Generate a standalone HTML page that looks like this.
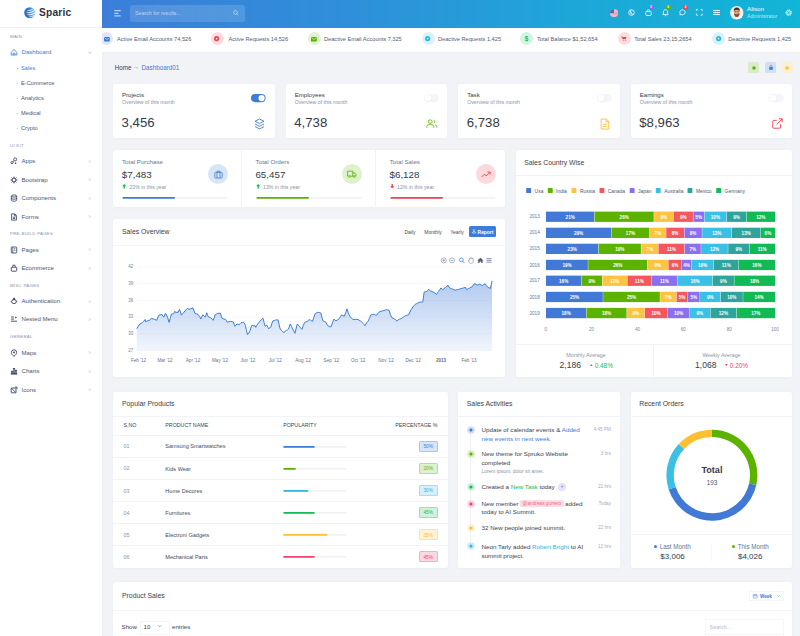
<!DOCTYPE html>
<html lang="en"><head><meta charset="utf-8"><title>Sparic Dashboard</title>
<style>
*{box-sizing:border-box;margin:0;padding:0}
html,body{width:800px;height:636px;overflow:hidden;background:#f2f3f7;font-family:"Liberation Sans",Arial,sans-serif;color:#3b4863}
.abs,.abs>*{position:absolute}
body>div{position:absolute}
.t{position:absolute;white-space:nowrap;line-height:1}
.card{position:absolute;background:#fff;border-radius:2.5px;box-shadow:0 .5px 2px rgba(120,130,170,.05)}
.hl{position:absolute;height:1px;background:#f2f3f8;margin-top:-.5px}
.vl{position:absolute;width:1px;background:#f1f2f7;margin-left:-.5px}
svg{position:absolute;overflow:visible}
.mut{color:#8c92a6}
.sec{color:#8a92ad;font-size:4.4px;letter-spacing:.25px}
.mi{font-size:6.1px;color:#4a5473}
.sub{font-size:5.7px;color:#4a5573}
.pri{color:#3d7cd8}
.ct{font-size:6.85px;color:#383e4c}
</style></head><body>

<div id="sidebar" style="left:0;top:0;width:102px;height:636px;background:#fff;box-shadow:.5px 0 0 #e6e9f1">
<div class="hl" style="left:0;top:27.2px;width:100%"></div>
<svg style="left:24.1px;top:6.6px" width="11.6" height="11.6" viewBox="0 0 24 24">
<defs><linearGradient id="lg" x1="0" y1="0" x2="1" y2="0"><stop offset="0" stop-color="#1b63cc"/><stop offset=".45" stop-color="#2f7fe0"/><stop offset="1" stop-color="#8ccaf7"/></linearGradient><clipPath id="lc"><circle cx="12" cy="12" r="11.5"/></clipPath></defs>
<g clip-path="url(#lc)"><rect width="24" height="24" fill="url(#lg)"/>
<path transform="rotate(-14 12 12)" d="M28 2.5C18 6.5 12.5 7 7.5 5.2L8 6.6C13 8.6 19 8 28 4Z M28 7C18 11.4 11 11.6 5.5 9.4L5.8 11C11.5 13.4 18.5 12.8 28 8.6Z M28 11.8C18 16.2 11 16 5.6 13.8L6.2 15.4C11.8 17.8 18.6 17.6 28 13.4Z M28 16.6C19 20.4 13 20.4 8.4 18.6L9.6 20C14 21.8 20 21.6 28 18.2Z" fill="#fff"/></g>
</svg>
<div class="t" style="left:39px;top:8px;font-size:10.2px;font-weight:700;color:#2e323e;letter-spacing:.2px">Sparic</div>
<div class="t sec" style="left:10px;top:35px">MAIN</div>
<svg style="left:10.2px;top:48.2px" width="8" height="8" viewBox="0 0 8 8"><path d="M1.2 4.4 L4 1.3 L6.8 4.4 V7 H1.2 Z M3.2 7 V5.2 H4.8 V7" fill="none" stroke="#3d7cd8" stroke-width=".8" stroke-linejoin="round"/></svg>
<div class="t mi pri" style="left:21.5px;top:49px">Dashboard</div>
<svg style="left:88px;top:50.7px" width="4" height="3" viewBox="0 0 4 3"><path d="M.6 1L2 2.3L3.4 1" fill="none" stroke="#6c98dd" stroke-width=".6"/></svg>
<div style="position:absolute;left:16.6px;top:67.85px;width:.9px;height:.9px;border-radius:50%;background:#3d7cd8"></div>
<div class="t sub" style="left:21px;top:66px;color:#3d7cd8">Sales</div>
<div style="position:absolute;left:16.6px;top:82.95px;width:.9px;height:.9px;border-radius:50%;background:#9aa3bd"></div>
<div class="t sub" style="left:21px;top:81px;color:#4a5573">E-Commerce</div>
<div style="position:absolute;left:16.6px;top:97.95px;width:.9px;height:.9px;border-radius:50%;background:#9aa3bd"></div>
<div class="t sub" style="left:21px;top:96px;color:#4a5573">Analytics</div>
<div style="position:absolute;left:16.6px;top:113.05px;width:.9px;height:.9px;border-radius:50%;background:#9aa3bd"></div>
<div class="t sub" style="left:21px;top:111px;color:#4a5573">Medical</div>
<div style="position:absolute;left:16.6px;top:127.95px;width:.9px;height:.9px;border-radius:50%;background:#9aa3bd"></div>
<div class="t sub" style="left:21px;top:126px;color:#4a5573">Crypto</div>
<div class="t sec" style="left:10px;top:144px">UI KIT</div>
<svg style="left:10.2px;top:157.4px" width="8" height="8" viewBox="0 0 8 8"><circle cx="5.2" cy="2.4" r="1.5" fill="none" stroke="#2f3a5c" stroke-width=".8"/><circle cx="2" cy="5.6" r="1.1" fill="none" stroke="#2f3a5c" stroke-width=".8"/><circle cx="5.6" cy="6.3" r=".8" fill="#2f3a5c"/><path d="M4 3.6 L2.8 4.7" stroke="#2f3a5c" stroke-width=".8"/></svg>
<div class="t mi" style="left:21.5px;top:158px">Apps</div>
<svg style="left:88.3px;top:159.9px" width="3" height="3" viewBox="0 0 3 3"><path d="M1 .4L2.1 1.5L1 2.6" fill="none" stroke="#9aa3bd" stroke-width=".6"/></svg>
<svg style="left:10.2px;top:175.9px" width="8" height="8" viewBox="0 0 8 8"><circle cx="4" cy="4" r="1.9" fill="none" stroke="#2f3a5c" stroke-width=".9"/><path d="M4 .6V2 M4 6V7.4 M.6 4H2 M6 4H7.4 M1.6 1.6l1 1 M5.4 5.4l1 1 M6.4 1.6l-1 1 M2.6 5.4l-1 1" stroke="#2f3a5c" stroke-width=".9"/></svg>
<div class="t mi" style="left:21.5px;top:177px">Bootstrap</div>
<svg style="left:88.3px;top:178.4px" width="3" height="3" viewBox="0 0 3 3"><path d="M1 .4L2.1 1.5L1 2.6" fill="none" stroke="#9aa3bd" stroke-width=".6"/></svg>
<svg style="left:10.2px;top:194.4px" width="8" height="8" viewBox="0 0 8 8"><ellipse cx="4" cy="2" rx="2.7" ry="1.1" fill="none" stroke="#2f3a5c" stroke-width=".8"/><path d="M1.3 2V6c0 .7 1.2 1.2 2.7 1.2S6.7 6.7 6.7 6V2 M1.3 4c0 .7 1.2 1.2 2.7 1.2S6.7 4.7 6.7 4" fill="none" stroke="#2f3a5c" stroke-width=".8"/></svg>
<div class="t mi" style="left:21.5px;top:195px">Components</div>
<svg style="left:88.3px;top:196.9px" width="3" height="3" viewBox="0 0 3 3"><path d="M1 .4L2.1 1.5L1 2.6" fill="none" stroke="#9aa3bd" stroke-width=".6"/></svg>
<svg style="left:10.2px;top:212.8px" width="8" height="8" viewBox="0 0 8 8"><path d="M1.6 .9H4.8L6.4 2.6V7.1H1.6Z M4.6 1V2.8H6.3 M2.8 4.2H5.2 M2.8 5.5H5.2" fill="none" stroke="#2f3a5c" stroke-width=".8" stroke-linejoin="round"/></svg>
<div class="t mi" style="left:21.5px;top:214px">Forms</div>
<svg style="left:88.3px;top:215.3px" width="3" height="3" viewBox="0 0 3 3"><path d="M1 .4L2.1 1.5L1 2.6" fill="none" stroke="#9aa3bd" stroke-width=".6"/></svg>
<div class="t sec" style="left:10px;top:232px">PRE-BUILD PAGES</div>
<svg style="left:10.2px;top:245.9px" width="8" height="8" viewBox="0 0 8 8"><rect x="1.3" y="1" width="5.4" height="6" rx=".6" fill="none" stroke="#2f3a5c" stroke-width=".8"/><path d="M2.8 1V7 M4 2.8H5.4 M4 4.2H5.4" stroke="#2f3a5c" stroke-width=".7"/></svg>
<div class="t mi" style="left:21.5px;top:247px">Pages</div>
<svg style="left:88.3px;top:248.4px" width="3" height="3" viewBox="0 0 3 3"><path d="M1 .4L2.1 1.5L1 2.6" fill="none" stroke="#9aa3bd" stroke-width=".6"/></svg>
<svg style="left:10.2px;top:264.3px" width="8" height="8" viewBox="0 0 8 8"><rect x="1.3" y="3.2" width="5.4" height="4" rx=".7" fill="none" stroke="#2f3a5c" stroke-width=".85"/><path d="M2.6 3.2V2.4a1.4 1.4 0 0 1 2.8 0V3.2" fill="none" stroke="#2f3a5c" stroke-width=".85"/></svg>
<div class="t mi" style="left:21.5px;top:265px">Ecommerce</div>
<svg style="left:88.3px;top:266.8px" width="3" height="3" viewBox="0 0 3 3"><path d="M1 .4L2.1 1.5L1 2.6" fill="none" stroke="#9aa3bd" stroke-width=".6"/></svg>
<div class="t sec" style="left:10px;top:284px">MISC PAGES</div>
<svg style="left:10.2px;top:297.0px" width="8" height="8" viewBox="0 0 8 8"><ellipse cx="4" cy="4.6" rx="2.3" ry="2" fill="none" stroke="#2f3a5c" stroke-width=".85"/><path d="M2.8 2.4H5.2 M3.4 1.2H4.6V2.4H3.4Z M.7 4.6H1.7 M6.3 4.6H7.3" stroke="#2f3a5c" stroke-width=".8" fill="none"/></svg>
<div class="t mi" style="left:21.5px;top:298px">Authentication</div>
<svg style="left:88.3px;top:299.5px" width="3" height="3" viewBox="0 0 3 3"><path d="M1 .4L2.1 1.5L1 2.6" fill="none" stroke="#9aa3bd" stroke-width=".6"/></svg>
<svg style="left:10.2px;top:315.3px" width="8" height="8" viewBox="0 0 8 8"><path d="M1 2H4 M1 4.1H4 M1 6.2H7" stroke="#2f3a5c" stroke-width=".85"/><path d="M5.2 1.4L6.9 2.5L5.2 3.6Z" fill="#2f3a5c"/></svg>
<div class="t mi" style="left:21.5px;top:316px">Nested Menu</div>
<svg style="left:88.3px;top:317.8px" width="3" height="3" viewBox="0 0 3 3"><path d="M1 .4L2.1 1.5L1 2.6" fill="none" stroke="#9aa3bd" stroke-width=".6"/></svg>
<div class="t sec" style="left:10px;top:335px">GENERAL</div>
<svg style="left:10.2px;top:348.7px" width="8" height="8" viewBox="0 0 8 8"><path d="M4 7.3C2.4 6.1 1.4 4.9 1.4 3.4A2.6 2.6 0 0 1 6.6 3.4C6.6 4.9 5.6 6.1 4 7.3Z" fill="none" stroke="#2f3a5c" stroke-width=".85"/><circle cx="4" cy="3.4" r=".9" fill="#2f3a5c"/></svg>
<div class="t mi" style="left:21.5px;top:350px">Maps</div>
<svg style="left:88.3px;top:351.2px" width="3" height="3" viewBox="0 0 3 3"><path d="M1 .4L2.1 1.5L1 2.6" fill="none" stroke="#9aa3bd" stroke-width=".6"/></svg>
<svg style="left:10.2px;top:367.2px" width="8" height="8" viewBox="0 0 8 8"><path d="M.8 7H7.2" stroke="#2f3a5c" stroke-width=".8"/><rect x="1.3" y="4.2" width="1.4" height="2.6" fill="none" stroke="#2f3a5c" stroke-width=".7"/><rect x="3.3" y="1.6" width="1.4" height="5.2" fill="none" stroke="#2f3a5c" stroke-width=".7"/><rect x="5.3" y="3.2" width="1.4" height="3.6" fill="none" stroke="#2f3a5c" stroke-width=".7"/></svg>
<div class="t mi" style="left:21.5px;top:368px">Charts</div>
<svg style="left:88.3px;top:369.7px" width="3" height="3" viewBox="0 0 3 3"><path d="M1 .4L2.1 1.5L1 2.6" fill="none" stroke="#9aa3bd" stroke-width=".6"/></svg>
<svg style="left:10.2px;top:385.7px" width="8" height="8" viewBox="0 0 8 8"><rect x="1.2" y="2" width="4.8" height="4.8" rx=".4" fill="none" stroke="#2f3a5c" stroke-width=".85"/><path d="M1.4 2.2L5.8 6.6 M5 1H7V3" stroke="#2f3a5c" stroke-width=".8" fill="none"/></svg>
<div class="t mi" style="left:21.5px;top:387px">Icons</div>
<svg style="left:88.3px;top:388.2px" width="3" height="3" viewBox="0 0 3 3"><path d="M1 .4L2.1 1.5L1 2.6" fill="none" stroke="#9aa3bd" stroke-width=".6"/></svg>
</div>
<div id="header" style="left:102px;top:0;width:698px;height:27.5px;background:linear-gradient(90deg,#3b7ed9 0%,#2f8fda 35%,#1ca8d8 70%,#12b5d6 100%)">
 <svg style="left:12px;top:9.6px" width="8" height="7" viewBox="0 0 8 7"><path d="M.3 .7H6.7 M.3 3.3H4.6 M.3 5.9H6.7" stroke="#fff" stroke-width=".8"/></svg>
<div style="position:absolute;left:28px;top:5px;width:115px;height:16.5px;border-radius:2.5px;background:rgba(255,255,255,.14)"></div>
<div class="t" style="left:33px;top:11px;font-size:5.3px;color:rgba(255,255,255,.62)">Search for results...</div>
<svg style="left:131.2px;top:10.2px" width="5.8" height="5.8" viewBox="0 0 5 5"><circle cx="2.1" cy="2.1" r="1.6" fill="none" stroke="rgba(255,255,255,.7)" stroke-width=".55"/><path d="M3.3 3.3L4.6 4.6" stroke="rgba(255,255,255,.7)" stroke-width=".55"/></svg>
<svg style="left:508.29999999999995px;top:8.8px" width="8" height="8" viewBox="0 0 8 8"><defs><clipPath id="fc"><circle cx="4" cy="4" r="4"/></clipPath></defs>
<g clip-path="url(#fc)"><rect width="8" height="8" fill="#f4f4f8"/><path d="M0 .6H8M0 1.9H8M0 3.2H8M0 4.5H8M0 5.8H8M0 7.1H8" stroke="#ef6a7a" stroke-width=".7"/><rect width="4" height="4" fill="#5566b8"/></g></svg>
<svg style="left:525.5px;top:9.3px" width="7" height="7" viewBox="0 0 7 7"><circle cx="3.5" cy="3.5" r="2.8" fill="none" stroke="rgba(255,255,255,.95)" stroke-width=".85"/><path d="M3.5 .7A3 3 0 0 0 5.8 5.2A2.4 2.4 0 0 1 3.5 .7Z" fill="rgba(255,255,255,.95)"/></svg>
<svg style="left:542.6px;top:9.3px" width="7" height="7" viewBox="0 0 7 7"><rect x=".8" y="2.6" width="5.4" height="3.9" rx=".7" fill="none" stroke="rgba(255,255,255,.95)" stroke-width=".85"/><path d="M2.2 2.6V2a1.3 1.3 0 0 1 2.6 0V2.6" fill="none" stroke="rgba(255,255,255,.95)" stroke-width=".85"/></svg>
<svg style="left:560px;top:9.1px" width="7" height="7.4" viewBox="0 0 7 7.4"><path d="M3.5 .7C2.1 .7 1.4 1.8 1.4 3V4.6L.8 5.6H6.2L5.6 4.6V3C5.6 1.8 4.9 .7 3.5 .7Z M2.8 6.4A.8 .8 0 0 0 4.2 6.4" fill="none" stroke="rgba(255,255,255,.95)" stroke-width=".85" stroke-linejoin="round"/></svg>
<svg style="left:577px;top:9.3px" width="7" height="7" viewBox="0 0 7 7"><path d="M3.5 .8A2.7 2.5 0 1 1 2.2 5.5L.9 6L1.3 4.7A2.7 2.5 0 0 1 3.5 .8Z" fill="none" stroke="rgba(255,255,255,.95)" stroke-width=".85" stroke-linejoin="round"/></svg>
<svg style="left:594.2px;top:9px" width="6.6" height="6.6" viewBox="0 0 6.4 6.4"><path d="M.4 2V.4H2 M4.4 .4H6V2 M6 4.4V6H4.4 M2 6H.4V4.4" fill="none" stroke="rgba(255,255,255,.95)" stroke-width=".75"/></svg>
<svg style="left:611px;top:9px" width="7" height="7" viewBox="0 0 7 7"><path d="M0 1.5H7M0 3.5H7M0 5.5H7" stroke="#fff" stroke-opacity=".92" stroke-width=".9"/><path d="M4.5 .6V2.4M2.5 2.6V4.4M4.5 4.6V6.4" stroke="#fff" stroke-opacity=".8" stroke-width=".6"/></svg>
<div style="position:absolute;left:546.8px;top:5.0px;width:4.8px;height:4.8px;border-radius:50%;background:#7b6cf0"></div>
<div class="t" style="left:548.3px;top:6px;font-size:3px;color:#fff;font-weight:700">5</div>
<div style="position:absolute;left:564.1px;top:4.8px;width:4.8px;height:4.8px;border-radius:50%;background:#5bb300"></div>
<div class="t" style="left:565.6px;top:6px;font-size:3px;color:#fff;font-weight:700">6</div>
<div style="position:absolute;left:581.2px;top:5.0px;width:4.8px;height:4.8px;border-radius:50%;background:#f0434f"></div>
<div class="t" style="left:582.7px;top:6px;font-size:3px;color:#fff;font-weight:700">4</div>
<svg style="left:628px;top:6px" width="13.6" height="13.6" viewBox="0 0 27 27"><defs><clipPath id="av"><circle cx="13.5" cy="13.5" r="13.5"/></clipPath></defs>
<g clip-path="url(#av)"><rect width="27" height="27" fill="#f1eeec"/><path d="M0 27C1 21.5 6 20 13.5 20S26 21.5 27 27Z" fill="#fbfaf9"/><rect x="10" y="15" width="7" height="7" fill="#c98a6c"/><ellipse cx="13.5" cy="12" rx="5.6" ry="7" fill="#dba184"/><path d="M7.9 13.5C8.2 19.5 10.6 21.6 13.5 21.6S18.8 19.5 19.1 13.5C17.8 16.6 16 16.2 13.5 16.2S9.2 16.6 7.9 13.5Z" fill="#8a4a30"/><path d="M7.7 11.5C6.8 5.5 9.6 3.2 13.5 3.2S20.2 5.5 19.3 11.5C18.6 8.4 17.4 7.4 13.5 7.4S8.4 8.4 7.7 11.5Z" fill="#3e2a22"/><path d="M9.6 11H12.4M14.6 11H17.4" stroke="#2d2320" stroke-width=".9"/></g></svg>
<div class="t" style="left:645px;top:6px;font-size:6.2px;color:#fff">Alison</div>
<div class="t" style="left:645px;top:14px;font-size:5.15px;color:rgba(255,255,255,.72)">Administrator</div>
<svg style="left:682.9px;top:9.2px" width="7.4" height="7.4" viewBox="0 0 8 8"><circle cx="4" cy="4" r="1.2" fill="none" stroke="rgba(255,255,255,.95)" stroke-width=".7"/><circle cx="4" cy="4" r="2.45" fill="none" stroke="rgba(255,255,255,.95)" stroke-width=".75"/><circle cx="4" cy="4" r="3.15" fill="none" stroke="rgba(255,255,255,.95)" stroke-width="1" stroke-dasharray="1.1 1.374"/></svg>
</div>
<div id="ticker" style="left:102px;top:27.5px;width:698px;height:24px;background:#fff;box-shadow:0 .5px 0 #e9ecf3;overflow:hidden">
<div style="position:absolute;left:-2.0px;top:4.75px;width:13px;height:13px;border-radius:50%;background:rgba(61,124,216,0.18)"></div>
<svg style="left:1.6px;top:9.1px" width="5.8" height="4.4" viewBox="0 0 5.2 4.2" preserveAspectRatio="none"><rect width="5.2" height="4.2" rx=".6" fill="#3d7cd8"/><path d="M.5 .9L2.6 2.4L4.7 .9" fill="none" stroke="#fff" stroke-width=".5"/></svg>
<div class="t" style="left:15.0px;top:9px;font-size:5.65px;color:#535c73">Active Email Accounts 74,526</div>
<div style="position:absolute;left:108.5px;top:4.75px;width:13px;height:13px;border-radius:50%;background:rgba(240,67,79,0.18)"></div>
<svg style="left:112.4px;top:8.6px" width="5.2" height="5.2" viewBox="0 0 5.2 5.2"><circle cx="2.6" cy="2.6" r="2.6" fill="#f0434f"/><circle cx="2.6" cy="2.6" r=".85" fill="#fff" fill-opacity=".9"/></svg>
<div class="t" style="left:126.5px;top:9px;font-size:5.65px;color:#535c73">Active Requests 14,526</div>
<div style="position:absolute;left:205.5px;top:4.75px;width:13px;height:13px;border-radius:50%;background:rgba(91,179,0,0.18)"></div>
<svg style="left:209.1px;top:9.1px" width="5.8" height="4.4" viewBox="0 0 5.2 4.2" preserveAspectRatio="none"><rect width="5.2" height="4.2" rx=".6" fill="#5bb300"/><path d="M.5 .9L2.6 2.4L4.7 .9" fill="none" stroke="#fff" stroke-width=".5"/></svg>
<div class="t" style="left:222.0px;top:9px;font-size:5.65px;color:#535c73">Deactive Email Accounts 7,325</div>
<div style="position:absolute;left:319.5px;top:4.75px;width:13px;height:13px;border-radius:50%;background:rgba(44,181,228,0.18)"></div>
<svg style="left:323.4px;top:8.6px" width="5.2" height="5.2" viewBox="0 0 5.2 5.2"><circle cx="2.6" cy="2.6" r="2.6" fill="#2cb5e4"/><circle cx="2.6" cy="2.6" r=".85" fill="#fff" fill-opacity=".9"/></svg>
<div class="t" style="left:336.0px;top:9px;font-size:5.65px;color:#535c73">Deactive Requests 1,425</div>
<div style="position:absolute;left:418.0px;top:4.75px;width:13px;height:13px;border-radius:50%;background:rgba(19,187,86,0.18)"></div>
<div class="t" style="left:422.8px;top:8px;font-size:6.4px;font-weight:700;color:#13bb56">$</div>
<div class="t" style="left:435.0px;top:9px;font-size:5.65px;color:#535c73">Total Balance $1,52,654</div>
<div style="position:absolute;left:515.5px;top:4.75px;width:13px;height:13px;border-radius:50%;background:rgba(240,67,79,0.18)"></div>
<svg style="left:519.2px;top:8.9px" width="5.6" height="5" viewBox="0 0 5.6 5"><path d="M0 .4H1L1.4 1H5.4L4.8 3.1H1.8Z" fill="#f0434f"/><circle cx="2.2" cy="4.1" r=".6" fill="#f0434f"/><circle cx="4.3" cy="4.1" r=".6" fill="#f0434f"/></svg>
<div class="t" style="left:532.2px;top:9px;font-size:5.65px;color:#535c73">Total Sales 23,15,2654</div>
<div style="position:absolute;left:610.3px;top:4.75px;width:13px;height:13px;border-radius:50%;background:rgba(44,181,228,0.18)"></div>
<svg style="left:614.2px;top:8.6px" width="5.2" height="5.2" viewBox="0 0 5.2 5.2"><circle cx="2.6" cy="2.6" r="2.6" fill="#2cb5e4"/><circle cx="2.6" cy="2.6" r=".85" fill="#fff" fill-opacity=".9"/></svg>
<div class="t" style="left:626.2px;top:9px;font-size:5.65px;color:#535c73">Deactive Requests 1,425</div>
</div>
<div class="t" style="left:114.7px;top:65px;font-size:6.3px;color:#3b4252">Home</div>
<div class="t" style="left:133px;top:64px;font-size:6px;color:#757d93">&#8594;</div>
<div class="t pri" style="left:141.5px;top:65px;font-size:6.3px">Dashboard01</div>
<div style="left:748px;top:62.3px;width:11.3px;height:10.8px;border-radius:1.5px;background:#d8ecc9"></div>
<svg style="left:751.7px;top:65.6px" width="4" height="4" viewBox="0 0 4 4"><circle cx="2" cy="2" r="1.75" fill="#5bb300"/></svg>
<div style="left:765px;top:62.3px;width:11.3px;height:10.8px;border-radius:1.5px;background:#d2def2"></div>
<svg style="left:768.6px;top:65.2px" width="4" height="5" viewBox="0 0 4 5"><rect x=".2" y="2" width="3.6" height="2.8" rx=".4" fill="#3d7cd8"/><path d="M1 2V1.4a1 1 0 0 1 2 0V2" fill="none" stroke="#3d7cd8" stroke-width=".6"/></svg>
<div style="left:781.6px;top:62.3px;width:11.3px;height:10.8px;border-radius:1.5px;background:#fcf0d4"></div>
<svg style="left:785.3000000000001px;top:65.6px" width="4" height="4" viewBox="0 0 4 4"><circle cx="2" cy="2" r="1.75" fill="#fdc033"/></svg>
<div class="card" style="left:113px;top:84px;width:161.5px;height:53.5px">
<div class="t" style="left:9px;top:8px;font-size:6.1px;color:#363c49">Projects</div>
<div class="t mut" style="left:9px;top:16px;font-size:5.2px">Overview of this month</div>
<div class="t" style="left:8.6px;top:32px;font-size:13.2px;color:#343a47">3,456</div>
<svg style="left:138.4px;top:9.6px" width="14.6" height="8.2" viewBox="0 0 14.6 8.2"><rect x="0" y="0" width="14.6" height="8.2" rx="4.1" fill="#3d7cd8"/><circle cx="10.6" cy="4.1" r="3.1" fill="#fff"/></svg>
<svg style="left:140.8px;top:33.6px" width="11" height="12" viewBox="0 0 11 12"><path d="M5.5 1L10 3.3L5.5 5.6L1 3.3Z M1 6L5.5 8.3L10 6 M1 8.6L5.5 10.9L10 8.6" fill="none" stroke="#3d7cd8" stroke-width=".9" stroke-linejoin="round"/></svg>
</div>
<div class="card" style="left:285.7px;top:84px;width:161.5px;height:53.5px">
<div class="t" style="left:9px;top:8px;font-size:6.1px;color:#363c49">Employees</div>
<div class="t mut" style="left:9px;top:16px;font-size:5.2px">Overview of this month</div>
<div class="t" style="left:8.6px;top:32px;font-size:13.2px;color:#343a47">4,738</div>
<svg style="left:138.4px;top:9.5px" width="14.8" height="8.2" viewBox="0 0 14.8 8.2"><rect x="0" y="0" width="14.8" height="8.2" rx="4.1" fill="#f5f6fa"/><circle cx="4.3" cy="4.3" r="3.5" fill="#d9dbe3" fill-opacity=".55"/><circle cx="4.1" cy="4" r="3.3" fill="#fff"/></svg>
<svg style="left:140.3px;top:35.2px" width="11.6" height="9.6" viewBox="0 0 12 11" preserveAspectRatio="none"><circle cx="4.4" cy="3" r="2" fill="none" stroke="#5bb300" stroke-width=".9"/><path d="M.8 10V9a2.6 2.6 0 0 1 2.6-2.6H5.4A2.6 2.6 0 0 1 8 9V10 M8 1.2A2 2 0 0 1 8 4.8 M9.4 6.6A2.6 2.6 0 0 1 11.2 9V10" fill="none" stroke="#5bb300" stroke-width=".9"/></svg>
</div>
<div class="card" style="left:458.2px;top:84px;width:161.5px;height:53.5px">
<div class="t" style="left:9px;top:8px;font-size:6.1px;color:#363c49">Task</div>
<div class="t mut" style="left:9px;top:16px;font-size:5.2px">Overview of this month</div>
<div class="t" style="left:8.6px;top:32px;font-size:13.2px;color:#343a47">6,738</div>
<svg style="left:138.4px;top:9.5px" width="14.8" height="8.2" viewBox="0 0 14.8 8.2"><rect x="0" y="0" width="14.8" height="8.2" rx="4.1" fill="#f5f6fa"/><circle cx="4.3" cy="4.3" r="3.5" fill="#d9dbe3" fill-opacity=".55"/><circle cx="4.1" cy="4" r="3.3" fill="#fff"/></svg>
<svg style="left:141.5px;top:33.6px" width="10" height="12" viewBox="0 0 10 12"><path d="M1.2 1H6.2L8.8 3.6V11H1.2Z M6 1.2V3.8H8.6 M3 6.2H7 M3 8.4H7" fill="none" stroke="#fdc033" stroke-width=".9" stroke-linejoin="round"/></svg>
</div>
<div class="card" style="left:630.7px;top:84px;width:161.5px;height:53.5px">
<div class="t" style="left:9px;top:8px;font-size:6.1px;color:#363c49">Earnings</div>
<div class="t mut" style="left:9px;top:16px;font-size:5.2px">Overview of this month</div>
<div class="t" style="left:8.6px;top:32px;font-size:13.2px;color:#343a47">$8,963</div>
<svg style="left:138.4px;top:9.5px" width="14.8" height="8.2" viewBox="0 0 14.8 8.2"><rect x="0" y="0" width="14.8" height="8.2" rx="4.1" fill="#f5f6fa"/><circle cx="4.3" cy="4.3" r="3.5" fill="#d9dbe3" fill-opacity=".55"/><circle cx="4.1" cy="4" r="3.3" fill="#fff"/></svg>
<svg style="left:141px;top:34px" width="11" height="11" viewBox="0 0 11 11"><path d="M8.6 6.2V9.4a.8 .8 0 0 1-.8 .8H1.6a.8 .8 0 0 1-.8-.8V3.2a.8 .8 0 0 1 .8-.8H4.8 M6.8 .8H10.2V4.2 M10 1L4.6 6.4" fill="none" stroke="#f0434f" stroke-width=".95" stroke-linejoin="round"/></svg>
</div>
<div class="card" style="left:113px;top:149.5px;width:392px;height:57.5px">
<div class="t" style="left:9px;top:9px;font-size:6.2px;color:#6b7591">Total Purchase</div>
<div class="t" style="left:8.8px;top:20px;font-size:9.8px;color:#343a47">$7,483</div>
<svg style="left:9.3px;top:34.7px" width="4.4" height="4.6" viewBox="0 0 3.6 4"><path d="M1.8 0L3.6 2H2.4V4H1.2V2H0Z" fill="#13bb56"/></svg>
<div class="t mut" style="left:16.4px;top:35px;font-size:5.2px">23% in this year</div>
<svg style="left:9px;top:47.2px" width="106" height="1.7" viewBox="0 0 106 1.7"><rect width="106" height="1.7" rx=".85" fill="#f1f2f7"/><rect width="53" height="1.7" rx=".85" fill="#3d7cd8"/></svg>
<div style="position:absolute;left:95px;top:14.8px;width:20px;height:20px;border-radius:50%;background:rgba(61,124,216,0.2)"></div>
<svg style="left:100.5px;top:20.5px" width="9" height="9" viewBox="0 0 9 9"><rect x=".8" y="2.4" width="7.4" height="5.6" rx=".8" fill="none" stroke="#3d7cd8" stroke-width=".8"/><path d="M3 2.4V1.2H6V2.4 M3 2.4V8 M6 2.4V8" fill="none" stroke="#3d7cd8" stroke-width=".8"/></svg>
<div class="vl" style="left:128.6px;top:0;height:58px"></div>
<div class="t" style="left:142.6px;top:9px;font-size:6.2px;color:#6b7591">Total Orders</div>
<div class="t" style="left:142.4px;top:20px;font-size:9.8px;color:#343a47">65,457</div>
<svg style="left:142.9px;top:34.7px" width="4.4" height="4.6" viewBox="0 0 3.6 4"><path d="M1.8 0L3.6 2H2.4V4H1.2V2H0Z" fill="#13bb56"/></svg>
<div class="t mut" style="left:150.0px;top:35px;font-size:5.2px">13% in this year</div>
<svg style="left:142.6px;top:47.2px" width="106" height="1.7" viewBox="0 0 106 1.7"><rect width="106" height="1.7" rx=".85" fill="#f1f2f7"/><rect width="53" height="1.7" rx=".85" fill="#5bb300"/></svg>
<div style="position:absolute;left:228.6px;top:14.8px;width:20px;height:20px;border-radius:50%;background:rgba(91,179,0,0.2)"></div>
<svg style="left:233.8px;top:20.8px" width="9.6" height="8.4" viewBox="0 0 9.6 8.4"><path d="M.6 1.2H5.8V6.2H.6Z M5.8 3H7.8L9 4.6V6.2H5.8" fill="none" stroke="#5bb300" stroke-width=".85" stroke-linejoin="round"/><circle cx="2.6" cy="6.6" r=".9" fill="#d9efc2" stroke="#5bb300" stroke-width=".7"/><circle cx="7.2" cy="6.6" r=".9" fill="#d9efc2" stroke="#5bb300" stroke-width=".7"/></svg>
<div class="vl" style="left:262.7px;top:0;height:58px"></div>
<div class="t" style="left:276.7px;top:9px;font-size:6.2px;color:#6b7591">Total Sales</div>
<div class="t" style="left:276.5px;top:20px;font-size:9.8px;color:#343a47">$6,128</div>
<svg style="left:277.0px;top:34.7px" width="4.4" height="4.6" viewBox="0 0 3.6 4"><path d="M1.8 4L3.6 2H2.4V0H1.2V2H0Z" fill="#f0434f"/></svg>
<div class="t mut" style="left:284.09999999999997px;top:35px;font-size:5.2px">12% in this year</div>
<svg style="left:276.7px;top:47.2px" width="106" height="1.7" viewBox="0 0 106 1.7"><rect width="106" height="1.7" rx=".85" fill="#f1f2f7"/><rect width="53" height="1.7" rx=".85" fill="#f0434f"/></svg>
<div style="position:absolute;left:362.7px;top:14.8px;width:20px;height:20px;border-radius:50%;background:rgba(240,67,79,0.2)"></div>
<svg style="left:367.9px;top:21.5px" width="9.6" height="7" viewBox="0 0 9.6 7"><path d="M.6 6L3.4 3.2L5.2 5L9 1.2 M6.4 1H9.1V3.7" fill="none" stroke="#f0434f" stroke-width=".9" stroke-linejoin="round"/></svg>
</div><div class="card" style="left:113px;top:218.6px;width:392px;height:158.5px">
<div class="t ct" style="left:9px;top:10px">Sales Overview</div>
<div class="hl" style="left:0;top:27.0px;width:100%"></div>
<div class="t" style="left:297px;top:11px;font-size:5px;color:#434b60;transform:translateX(-50%)">Daily</div>
<div class="t" style="left:320px;top:11px;font-size:5px;color:#434b60;transform:translateX(-50%)">Monthly</div>
<div class="t" style="left:344px;top:11px;font-size:5px;color:#434b60;transform:translateX(-50%)">Yearly</div>
<div style="position:absolute;left:355.8px;top:7.400000000000006px;width:27.6px;height:11.4px;border-radius:1.5px;background:#3d7cd8"></div>
<svg style="left:359.2px;top:10.400000000000006px" width="4" height="4.4" viewBox="0 0 4 4.4"><path d="M2 0V2.8 M.8 1.7L2 2.9L3.2 1.7 M.3 3V4H3.7V3" fill="none" stroke="#fff" stroke-width=".6"/></svg>
<div class="t" style="left:364.6px;top:12px;font-size:4.9px;color:#fff;font-weight:700">Report</div>
<svg style="left:-113px;top:-218.6px" width="800" height="636" viewBox="0 0 800 636">
<defs><linearGradient id="ag" x1="0" y1="0" x2="0" y2="1"><stop offset="0" stop-color="#3d7cd8" stop-opacity=".4"/><stop offset="1" stop-color="#3d7cd8" stop-opacity=".07"/></linearGradient></defs>
<line x1="136.7" x2="491.8" y1="267.00" y2="267.00" stroke="#eef0f5" stroke-width=".5"/>
<text x="133.3" y="268.30" font-size="4.45" fill="#737c92" text-anchor="end" font-family="Liberation Sans">42</text>
<line x1="136.7" x2="491.8" y1="283.70" y2="283.70" stroke="#eef0f5" stroke-width=".5"/>
<text x="133.3" y="285.00" font-size="4.45" fill="#737c92" text-anchor="end" font-family="Liberation Sans">39</text>
<line x1="136.7" x2="491.8" y1="300.40" y2="300.40" stroke="#eef0f5" stroke-width=".5"/>
<text x="133.3" y="301.70" font-size="4.45" fill="#737c92" text-anchor="end" font-family="Liberation Sans">36</text>
<line x1="136.7" x2="491.8" y1="317.10" y2="317.10" stroke="#eef0f5" stroke-width=".5"/>
<text x="133.3" y="318.40" font-size="4.45" fill="#737c92" text-anchor="end" font-family="Liberation Sans">33</text>
<line x1="136.7" x2="491.8" y1="333.80" y2="333.80" stroke="#eef0f5" stroke-width=".5"/>
<text x="133.3" y="335.10" font-size="4.45" fill="#737c92" text-anchor="end" font-family="Liberation Sans">30</text>
<line x1="136.7" x2="491.8" y1="350.50" y2="350.50" stroke="#eef0f5" stroke-width=".5"/>
<text x="133.3" y="351.80" font-size="4.45" fill="#737c92" text-anchor="end" font-family="Liberation Sans">27</text>
<path d="M136.72 328.62 L138.53 326.02 L139.83 323.95 L141.13 323.43 L142.43 322.65 L143.72 321.36 L145.02 319.54 L145.80 321.87 L146.84 321.10 L148.91 320.58 L150.21 319.80 L151.50 318.24 L153.06 319.02 L154.62 319.28 L156.69 320.32 L158.25 316.17 L159.29 314.87 L160.84 314.61 L161.88 314.35 L162.92 316.17 L163.96 316.95 L165.25 313.57 L166.03 313.83 L167.59 317.46 L169.14 322.39 L170.44 317.46 L171.48 314.09 L172.78 313.83 L173.81 313.57 L174.85 311.24 L175.89 312.80 L176.93 312.02 L177.96 312.54 L179.52 309.42 L180.56 312.02 L181.34 315.13 L182.63 313.57 L183.93 312.28 L185.75 309.94 L187.30 308.39 L188.86 309.16 L190.42 308.90 L191.97 308.39 L193.01 307.87 L194.05 310.98 L195.08 313.57 L196.64 313.83 L198.20 314.61 L199.75 316.69 L200.79 319.02 L201.83 316.69 L202.87 314.87 L204.16 316.17 L205.46 316.95 L206.76 312.80 L207.80 315.65 L208.57 316.95 L210.13 317.46 L211.17 318.24 L212.46 319.28 L213.24 320.32 L214.28 317.46 L215.06 314.87 L216.36 314.09 L217.65 313.57 L218.95 313.31 L220.25 313.05 L221.28 316.17 L222.06 318.24 L223.62 319.02 L225.43 319.28 L226.47 320.84 L227.25 322.39 L228.81 321.61 L230.62 321.36 L231.92 321.61 L233.22 321.87 L234.25 324.47 L235.03 326.28 L236.07 324.99 L237.11 323.95 L238.15 324.47 L239.18 324.73 L240.22 323.43 L241.00 322.65 L242.30 322.39 L243.59 322.13 L244.63 323.95 L245.41 325.51 L246.45 330.43 L247.48 334.58 L248.78 333.03 L250.08 330.69 L251.12 327.06 L252.15 324.99 L253.19 325.77 L253.97 326.02 L255.01 325.51 L255.78 327.32 L256.82 325.25 L257.86 323.95 L258.90 322.39 L259.94 321.36 L261.49 319.54 L263.05 318.24 L264.09 322.65 L265.12 326.28 L266.16 325.51 L266.94 325.25 L267.98 327.32 L268.75 328.88 L269.79 327.58 L270.83 327.06 L271.87 323.43 L272.91 320.84 L274.20 320.58 L275.50 320.06 L276.80 319.80 L278.09 320.06 L279.13 324.47 L279.91 328.10 L281.21 330.18 L282.50 331.73 L283.54 332.25 L284.32 332.51 L285.36 330.95 L286.39 330.43 L287.43 329.92 L288.47 329.14 L289.51 326.02 L290.29 323.95 L291.58 326.54 L292.88 329.40 L293.92 331.47 L294.95 333.29 L296.25 328.10 L297.29 323.95 L298.33 325.25 L299.36 326.28 L300.66 328.10 L301.96 329.40 L303.26 325.51 L304.55 322.65 L305.85 321.87 L307.15 321.36 L308.44 320.32 L310.00 319.54 L311.30 320.84 L312.59 321.36 L313.89 317.20 L315.19 313.57 L316.49 312.80 L317.78 312.28 L319.34 312.54 L320.89 313.05 L321.93 317.46 L322.97 320.84 L324.27 321.36 L325.56 321.87 L326.86 324.21 L328.16 326.02 L329.71 326.80 L331.27 326.54 L332.57 322.39 L333.87 319.02 L334.90 320.32 L335.94 320.84 L337.50 319.80 L339.05 318.76 L340.35 316.69 L341.65 314.87 L342.94 315.65 L344.24 316.17 L345.80 312.28 L347.09 308.90 L348.13 312.28 L348.91 314.35 L350.21 316.69 L351.50 318.24 L352.80 319.28 L354.10 319.54 L356.17 319.28 L357.99 319.54 L359.29 320.32 L360.58 320.84 L361.88 322.13 L363.18 323.43 L364.22 324.73 L364.99 325.77 L366.55 322.91 L368.37 320.84 L369.66 317.46 L370.96 314.87 L372.78 314.35 L374.33 314.35 L375.63 315.13 L376.93 314.87 L378.48 312.54 L380.04 311.50 L382.11 310.98 L383.93 310.46 L385.23 309.94 L386.52 309.68 L387.82 309.94 L389.12 310.46 L390.42 314.61 L391.71 317.46 L393.01 318.24 L394.31 318.76 L395.60 320.06 L396.90 321.10 L398.20 319.80 L399.49 319.28 L400.79 318.76 L402.09 318.24 L403.39 316.95 L404.68 316.17 L406.50 315.39 L408.57 314.87 L409.87 312.02 L411.17 309.68 L412.98 306.83 L415.06 304.49 L416.36 303.72 L417.65 303.20 L418.95 302.42 L420.25 301.90 L421.54 302.16 L422.84 301.90 L423.62 295.93 L424.14 292.04 L425.43 291.78 L426.73 291.52 L427.77 290.23 L428.81 289.19 L429.84 290.49 L430.62 291.01 L431.92 291.52 L433.22 292.04 L435.03 293.08 L436.59 294.38 L437.63 292.56 L438.40 291.52 L439.70 289.71 L441.00 287.89 L442.04 289.19 L442.81 289.71 L444.11 288.41 L445.41 287.63 L446.71 286.34 L448.00 285.30 L449.04 287.11 L450.08 288.15 L451.37 288.67 L452.67 288.93 L453.97 289.71 L455.27 290.23 L456.82 289.71 L458.38 289.45 L459.94 288.93 L461.75 288.41 L463.57 287.89 L465.64 287.37 L466.42 289.19 L466.94 289.71 L468.24 288.67 L469.53 288.15 L470.83 287.37 L472.13 286.85 L473.42 285.04 L474.72 283.48 L476.02 284.52 L477.32 285.04 L478.61 284.52 L479.91 284.26 L481.21 285.04 L482.50 285.56 L483.80 284.52 L485.10 283.74 L486.39 285.56 L487.69 287.11 L488.99 287.89 L490.29 288.41 L491.32 284.52 L492.10 280.89 L492.10 350.5 L136.72 350.5 Z" fill="url(#ag)"/>
<path d="M136.72 328.62 L138.53 326.02 L139.83 323.95 L141.13 323.43 L142.43 322.65 L143.72 321.36 L145.02 319.54 L145.80 321.87 L146.84 321.10 L148.91 320.58 L150.21 319.80 L151.50 318.24 L153.06 319.02 L154.62 319.28 L156.69 320.32 L158.25 316.17 L159.29 314.87 L160.84 314.61 L161.88 314.35 L162.92 316.17 L163.96 316.95 L165.25 313.57 L166.03 313.83 L167.59 317.46 L169.14 322.39 L170.44 317.46 L171.48 314.09 L172.78 313.83 L173.81 313.57 L174.85 311.24 L175.89 312.80 L176.93 312.02 L177.96 312.54 L179.52 309.42 L180.56 312.02 L181.34 315.13 L182.63 313.57 L183.93 312.28 L185.75 309.94 L187.30 308.39 L188.86 309.16 L190.42 308.90 L191.97 308.39 L193.01 307.87 L194.05 310.98 L195.08 313.57 L196.64 313.83 L198.20 314.61 L199.75 316.69 L200.79 319.02 L201.83 316.69 L202.87 314.87 L204.16 316.17 L205.46 316.95 L206.76 312.80 L207.80 315.65 L208.57 316.95 L210.13 317.46 L211.17 318.24 L212.46 319.28 L213.24 320.32 L214.28 317.46 L215.06 314.87 L216.36 314.09 L217.65 313.57 L218.95 313.31 L220.25 313.05 L221.28 316.17 L222.06 318.24 L223.62 319.02 L225.43 319.28 L226.47 320.84 L227.25 322.39 L228.81 321.61 L230.62 321.36 L231.92 321.61 L233.22 321.87 L234.25 324.47 L235.03 326.28 L236.07 324.99 L237.11 323.95 L238.15 324.47 L239.18 324.73 L240.22 323.43 L241.00 322.65 L242.30 322.39 L243.59 322.13 L244.63 323.95 L245.41 325.51 L246.45 330.43 L247.48 334.58 L248.78 333.03 L250.08 330.69 L251.12 327.06 L252.15 324.99 L253.19 325.77 L253.97 326.02 L255.01 325.51 L255.78 327.32 L256.82 325.25 L257.86 323.95 L258.90 322.39 L259.94 321.36 L261.49 319.54 L263.05 318.24 L264.09 322.65 L265.12 326.28 L266.16 325.51 L266.94 325.25 L267.98 327.32 L268.75 328.88 L269.79 327.58 L270.83 327.06 L271.87 323.43 L272.91 320.84 L274.20 320.58 L275.50 320.06 L276.80 319.80 L278.09 320.06 L279.13 324.47 L279.91 328.10 L281.21 330.18 L282.50 331.73 L283.54 332.25 L284.32 332.51 L285.36 330.95 L286.39 330.43 L287.43 329.92 L288.47 329.14 L289.51 326.02 L290.29 323.95 L291.58 326.54 L292.88 329.40 L293.92 331.47 L294.95 333.29 L296.25 328.10 L297.29 323.95 L298.33 325.25 L299.36 326.28 L300.66 328.10 L301.96 329.40 L303.26 325.51 L304.55 322.65 L305.85 321.87 L307.15 321.36 L308.44 320.32 L310.00 319.54 L311.30 320.84 L312.59 321.36 L313.89 317.20 L315.19 313.57 L316.49 312.80 L317.78 312.28 L319.34 312.54 L320.89 313.05 L321.93 317.46 L322.97 320.84 L324.27 321.36 L325.56 321.87 L326.86 324.21 L328.16 326.02 L329.71 326.80 L331.27 326.54 L332.57 322.39 L333.87 319.02 L334.90 320.32 L335.94 320.84 L337.50 319.80 L339.05 318.76 L340.35 316.69 L341.65 314.87 L342.94 315.65 L344.24 316.17 L345.80 312.28 L347.09 308.90 L348.13 312.28 L348.91 314.35 L350.21 316.69 L351.50 318.24 L352.80 319.28 L354.10 319.54 L356.17 319.28 L357.99 319.54 L359.29 320.32 L360.58 320.84 L361.88 322.13 L363.18 323.43 L364.22 324.73 L364.99 325.77 L366.55 322.91 L368.37 320.84 L369.66 317.46 L370.96 314.87 L372.78 314.35 L374.33 314.35 L375.63 315.13 L376.93 314.87 L378.48 312.54 L380.04 311.50 L382.11 310.98 L383.93 310.46 L385.23 309.94 L386.52 309.68 L387.82 309.94 L389.12 310.46 L390.42 314.61 L391.71 317.46 L393.01 318.24 L394.31 318.76 L395.60 320.06 L396.90 321.10 L398.20 319.80 L399.49 319.28 L400.79 318.76 L402.09 318.24 L403.39 316.95 L404.68 316.17 L406.50 315.39 L408.57 314.87 L409.87 312.02 L411.17 309.68 L412.98 306.83 L415.06 304.49 L416.36 303.72 L417.65 303.20 L418.95 302.42 L420.25 301.90 L421.54 302.16 L422.84 301.90 L423.62 295.93 L424.14 292.04 L425.43 291.78 L426.73 291.52 L427.77 290.23 L428.81 289.19 L429.84 290.49 L430.62 291.01 L431.92 291.52 L433.22 292.04 L435.03 293.08 L436.59 294.38 L437.63 292.56 L438.40 291.52 L439.70 289.71 L441.00 287.89 L442.04 289.19 L442.81 289.71 L444.11 288.41 L445.41 287.63 L446.71 286.34 L448.00 285.30 L449.04 287.11 L450.08 288.15 L451.37 288.67 L452.67 288.93 L453.97 289.71 L455.27 290.23 L456.82 289.71 L458.38 289.45 L459.94 288.93 L461.75 288.41 L463.57 287.89 L465.64 287.37 L466.42 289.19 L466.94 289.71 L468.24 288.67 L469.53 288.15 L470.83 287.37 L472.13 286.85 L473.42 285.04 L474.72 283.48 L476.02 284.52 L477.32 285.04 L478.61 284.52 L479.91 284.26 L481.21 285.04 L482.50 285.56 L483.80 284.52 L485.10 283.74 L486.39 285.56 L487.69 287.11 L488.99 287.89 L490.29 288.41 L491.32 284.52 L492.10 280.89" fill="none" stroke="#3d7cd8" stroke-width="1" stroke-linejoin="round"/>
<text x="138.5" y="361.7" font-size="4.6" fill="#687187" text-anchor="middle" font-family="Liberation Sans">Feb '12</text>
<text x="165" y="361.7" font-size="4.6" fill="#687187" text-anchor="middle" font-family="Liberation Sans">Mar '12</text>
<text x="193" y="361.7" font-size="4.6" fill="#687187" text-anchor="middle" font-family="Liberation Sans">Apr '12</text>
<text x="220" y="361.7" font-size="4.6" fill="#687187" text-anchor="middle" font-family="Liberation Sans">May '12</text>
<text x="248" y="361.7" font-size="4.6" fill="#687187" text-anchor="middle" font-family="Liberation Sans">Jun '12</text>
<text x="275.2" y="361.7" font-size="4.6" fill="#687187" text-anchor="middle" font-family="Liberation Sans">Jul '12</text>
<text x="303" y="361.7" font-size="4.6" fill="#687187" text-anchor="middle" font-family="Liberation Sans">Aug '12</text>
<text x="331.3" y="361.7" font-size="4.6" fill="#687187" text-anchor="middle" font-family="Liberation Sans">Sep '12</text>
<text x="358.2" y="361.7" font-size="4.6" fill="#687187" text-anchor="middle" font-family="Liberation Sans">Oct '12</text>
<text x="386" y="361.7" font-size="4.6" fill="#687187" text-anchor="middle" font-family="Liberation Sans">Nov '12</text>
<text x="413.2" y="361.7" font-size="4.6" fill="#687187" text-anchor="middle" font-family="Liberation Sans">Dec '12</text>
<text x="441" y="361.7" font-size="4.6" fill="#687187" text-anchor="middle" font-family="Liberation Sans" font-weight="700">2013</text>
<text x="469" y="361.7" font-size="4.6" fill="#687187" text-anchor="middle" font-family="Liberation Sans">Feb '13</text>
<circle cx="443.7" cy="260.4" r="2.5" fill="none" stroke="#6b7591" stroke-width=".55"/><path d="M442.4 260.4H445M443.7 259.09999999999997V261.7" stroke="#6b7591" stroke-width=".55"/>
<circle cx="452" cy="260.4" r="2.5" fill="none" stroke="#6b7591" stroke-width=".55"/><path d="M450.7 260.4H453.3" stroke="#6b7591" stroke-width=".55"/>
<circle cx="461.4" cy="259.79999999999995" r="1.9" fill="none" stroke="#2f8fe8" stroke-width=".8"/><path d="M462.8 261.29999999999995L464.4 263.0" stroke="#2f8fe8" stroke-width=".9"/>
<path transform="translate(-1.2 0)" d="M470.4 260.79999999999995V258.79999999999995a.5 .5 0 0 1 1 0V258.2a.5 .5 0 0 1 1 0V258.4a.5 .5 0 0 1 1 0V259.0a.5 .5 0 0 1 1 0V261.59999999999997C474.4 262.79999999999995 473.6 263.29999999999995 472.4 263.29999999999995C471 263.29999999999995 470.4 262.4 469.4 261.0C469.2 260.4 470 260.2 470.4 260.79999999999995Z" fill="#fff" stroke="#6b7591" stroke-width=".55"/>
<path transform="translate(-.6 0)" d="M478 260.59999999999997L481 257.7L484 260.59999999999997H483.2V263.09999999999997H481.8V261.4H480.2V263.09999999999997H478.8V260.59999999999997Z" fill="#4f5a72"/>
<path d="M486.4 258.59999999999997H491.6M486.4 260.4H491.6M486.4 262.2H491.6" stroke="#6b7591" stroke-width=".8"/>
</svg></div>
<div class="card" style="left:516px;top:149.5px;width:276px;height:227.6px">
<div class="t ct" style="left:8.200000000000045px;top:10px">Sales Country Wise</div>
<div class="hl" style="left:0;top:25.80000000000001px;width:100%"></div>
<svg style="left:-516px;top:-149.5px" width="800" height="636" viewBox="0 0 800 636" font-family="Liberation Sans">
<rect x="526.2" y="188.1" width="4.9" height="4.9" rx=".6" fill="#4279d6"/>
<text x="534.6" y="192.9" font-size="4.95" fill="#4d5875">Usa</text>
<rect x="547.8" y="188.1" width="4.9" height="4.9" rx=".6" fill="#5bb300"/>
<text x="556.1" y="192.9" font-size="4.95" fill="#4d5875">India</text>
<rect x="571.5" y="188.1" width="4.9" height="4.9" rx=".6" fill="#fdc441"/>
<text x="580" y="192.9" font-size="4.95" fill="#4d5875">Russia</text>
<rect x="599.5" y="188.1" width="4.9" height="4.9" rx=".6" fill="#f4585f"/>
<text x="607.8" y="192.9" font-size="4.95" fill="#4d5875">Canada</text>
<rect x="629.7" y="188.1" width="4.9" height="4.9" rx=".6" fill="#8c6ff0"/>
<text x="638" y="192.9" font-size="4.95" fill="#4d5875">Japan</text>
<rect x="655.8" y="188.1" width="4.9" height="4.9" rx=".6" fill="#3bc0e5"/>
<text x="664.2" y="192.9" font-size="4.95" fill="#4d5875">Australia</text>
<rect x="687.5" y="188.1" width="4.9" height="4.9" rx=".6" fill="#2fa49c"/>
<text x="695.9" y="192.9" font-size="4.95" fill="#4d5875">Mexico</text>
<rect x="716.2" y="188.1" width="4.9" height="4.9" rx=".6" fill="#12ba55"/>
<text x="724.6" y="192.9" font-size="4.95" fill="#4d5875">Germany</text>
<text x="534.6" y="218.3" font-size="4.7" fill="#6f7890" text-anchor="middle">2013</text>
<rect x="545.99" y="211.6" width="48.45" height="10.3" fill="#4279d6"/>
<text x="570.22" y="218.5" font-size="4.6" font-weight="700" fill="#fff" text-anchor="middle">21%</text>
<rect x="594.44" y="211.6" width="59.49" height="10.3" fill="#5bb300"/>
<rect x="594.24" y="211.6" width=".4" height="10.3" fill="#fff" fill-opacity=".8"/>
<text x="624.19" y="218.5" font-size="4.6" font-weight="700" fill="#fff" text-anchor="middle">26%</text>
<rect x="653.94" y="211.6" width="19.59" height="10.3" fill="#fdc441"/>
<rect x="653.74" y="211.6" width=".4" height="10.3" fill="#fff" fill-opacity=".8"/>
<text x="663.74" y="218.5" font-size="4.6" font-weight="700" fill="#fff" text-anchor="middle">9%</text>
<rect x="673.53" y="211.6" width="19.59" height="10.3" fill="#f4585f"/>
<rect x="673.33" y="211.6" width=".4" height="10.3" fill="#fff" fill-opacity=".8"/>
<text x="683.33" y="218.5" font-size="4.6" font-weight="700" fill="#fff" text-anchor="middle">9%</text>
<rect x="693.13" y="211.6" width="11.04" height="10.3" fill="#8c6ff0"/>
<rect x="692.93" y="211.6" width=".4" height="10.3" fill="#fff" fill-opacity=".8"/>
<text x="698.65" y="218.5" font-size="4.6" font-weight="700" fill="#fff" text-anchor="middle">5%</text>
<rect x="704.17" y="211.6" width="22.44" height="10.3" fill="#3bc0e5"/>
<rect x="703.97" y="211.6" width=".4" height="10.3" fill="#fff" fill-opacity=".8"/>
<text x="715.39" y="218.5" font-size="4.6" font-weight="700" fill="#fff" text-anchor="middle">10%</text>
<rect x="726.61" y="211.6" width="19.95" height="10.3" fill="#2fa49c"/>
<rect x="726.41" y="211.6" width=".4" height="10.3" fill="#fff" fill-opacity=".8"/>
<text x="736.59" y="218.5" font-size="4.6" font-weight="700" fill="#fff" text-anchor="middle">9%</text>
<rect x="746.56" y="211.6" width="28.50" height="10.3" fill="#12ba55"/>
<rect x="746.36" y="211.6" width=".4" height="10.3" fill="#fff" fill-opacity=".8"/>
<text x="760.81" y="218.5" font-size="4.6" font-weight="700" fill="#fff" text-anchor="middle">12%</text>
<text x="534.6" y="234.4" font-size="4.7" fill="#6f7890" text-anchor="middle">2014</text>
<rect x="545.99" y="227.7" width="65.19" height="10.3" fill="#4279d6"/>
<text x="578.59" y="234.6" font-size="4.6" font-weight="700" fill="#fff" text-anchor="middle">29%</text>
<rect x="611.19" y="227.7" width="38.48" height="10.3" fill="#5bb300"/>
<rect x="610.99" y="227.7" width=".4" height="10.3" fill="#fff" fill-opacity=".8"/>
<text x="630.43" y="234.6" font-size="4.6" font-weight="700" fill="#fff" text-anchor="middle">17%</text>
<rect x="649.66" y="227.7" width="16.39" height="10.3" fill="#fdc441"/>
<rect x="649.46" y="227.7" width=".4" height="10.3" fill="#fff" fill-opacity=".8"/>
<text x="657.86" y="234.6" font-size="4.6" font-weight="700" fill="#fff" text-anchor="middle">7%</text>
<rect x="666.05" y="227.7" width="18.17" height="10.3" fill="#f4585f"/>
<rect x="665.85" y="227.7" width=".4" height="10.3" fill="#fff" fill-opacity=".8"/>
<text x="675.14" y="234.6" font-size="4.6" font-weight="700" fill="#fff" text-anchor="middle">8%</text>
<rect x="684.22" y="227.7" width="17.81" height="10.3" fill="#8c6ff0"/>
<rect x="684.02" y="227.7" width=".4" height="10.3" fill="#fff" fill-opacity=".8"/>
<text x="693.13" y="234.6" font-size="4.6" font-weight="700" fill="#fff" text-anchor="middle">8%</text>
<rect x="702.03" y="227.7" width="29.57" height="10.3" fill="#3bc0e5"/>
<rect x="701.83" y="227.7" width=".4" height="10.3" fill="#fff" fill-opacity=".8"/>
<text x="716.82" y="234.6" font-size="4.6" font-weight="700" fill="#fff" text-anchor="middle">13%</text>
<rect x="731.60" y="227.7" width="29.21" height="10.3" fill="#2fa49c"/>
<rect x="731.40" y="227.7" width=".4" height="10.3" fill="#fff" fill-opacity=".8"/>
<text x="746.21" y="234.6" font-size="4.6" font-weight="700" fill="#fff" text-anchor="middle">13%</text>
<rect x="760.81" y="227.7" width="14.25" height="10.3" fill="#12ba55"/>
<rect x="760.61" y="227.7" width=".4" height="10.3" fill="#fff" fill-opacity=".8"/>
<text x="767.94" y="234.6" font-size="4.6" font-weight="700" fill="#fff" text-anchor="middle">6%</text>
<text x="534.6" y="250.4" font-size="4.7" fill="#6f7890" text-anchor="middle">2015</text>
<rect x="545.99" y="243.7" width="52.37" height="10.3" fill="#4279d6"/>
<text x="572.18" y="250.6" font-size="4.6" font-weight="700" fill="#fff" text-anchor="middle">23%</text>
<rect x="598.36" y="243.7" width="42.75" height="10.3" fill="#5bb300"/>
<rect x="598.16" y="243.7" width=".4" height="10.3" fill="#fff" fill-opacity=".8"/>
<text x="619.74" y="250.6" font-size="4.6" font-weight="700" fill="#fff" text-anchor="middle">19%</text>
<rect x="641.11" y="243.7" width="17.10" height="10.3" fill="#fdc441"/>
<rect x="640.91" y="243.7" width=".4" height="10.3" fill="#fff" fill-opacity=".8"/>
<text x="649.66" y="250.6" font-size="4.6" font-weight="700" fill="#fff" text-anchor="middle">7%</text>
<rect x="658.21" y="243.7" width="26.36" height="10.3" fill="#f4585f"/>
<rect x="658.01" y="243.7" width=".4" height="10.3" fill="#fff" fill-opacity=".8"/>
<text x="671.39" y="250.6" font-size="4.6" font-weight="700" fill="#fff" text-anchor="middle">11%</text>
<rect x="684.58" y="243.7" width="16.39" height="10.3" fill="#8c6ff0"/>
<rect x="684.38" y="243.7" width=".4" height="10.3" fill="#fff" fill-opacity=".8"/>
<text x="692.77" y="250.6" font-size="4.6" font-weight="700" fill="#fff" text-anchor="middle">7%</text>
<rect x="700.96" y="243.7" width="27.08" height="10.3" fill="#3bc0e5"/>
<rect x="700.76" y="243.7" width=".4" height="10.3" fill="#fff" fill-opacity=".8"/>
<text x="714.50" y="250.6" font-size="4.6" font-weight="700" fill="#fff" text-anchor="middle">12%</text>
<rect x="728.04" y="243.7" width="21.38" height="10.3" fill="#2fa49c"/>
<rect x="727.84" y="243.7" width=".4" height="10.3" fill="#fff" fill-opacity=".8"/>
<text x="738.73" y="250.6" font-size="4.6" font-weight="700" fill="#fff" text-anchor="middle">9%</text>
<rect x="749.41" y="243.7" width="25.65" height="10.3" fill="#12ba55"/>
<rect x="749.21" y="243.7" width=".4" height="10.3" fill="#fff" fill-opacity=".8"/>
<text x="762.24" y="250.6" font-size="4.6" font-weight="700" fill="#fff" text-anchor="middle">11%</text>
<text x="534.6" y="266.5" font-size="4.7" fill="#6f7890" text-anchor="middle">2016</text>
<rect x="545.99" y="259.8" width="42.04" height="10.3" fill="#4279d6"/>
<text x="567.01" y="266.7" font-size="4.6" font-weight="700" fill="#fff" text-anchor="middle">19%</text>
<rect x="588.03" y="259.8" width="59.49" height="10.3" fill="#5bb300"/>
<rect x="587.83" y="259.8" width=".4" height="10.3" fill="#fff" fill-opacity=".8"/>
<text x="617.78" y="266.7" font-size="4.6" font-weight="700" fill="#fff" text-anchor="middle">26%</text>
<rect x="647.53" y="259.8" width="20.66" height="10.3" fill="#fdc441"/>
<rect x="647.33" y="259.8" width=".4" height="10.3" fill="#fff" fill-opacity=".8"/>
<text x="657.86" y="266.7" font-size="4.6" font-weight="700" fill="#fff" text-anchor="middle">9%</text>
<rect x="668.19" y="259.8" width="13.54" height="10.3" fill="#f4585f"/>
<rect x="667.99" y="259.8" width=".4" height="10.3" fill="#fff" fill-opacity=".8"/>
<text x="674.96" y="266.7" font-size="4.6" font-weight="700" fill="#fff" text-anchor="middle">6%</text>
<rect x="681.73" y="259.8" width="9.62" height="10.3" fill="#8c6ff0"/>
<rect x="681.53" y="259.8" width=".4" height="10.3" fill="#fff" fill-opacity=".8"/>
<text x="686.54" y="266.7" font-size="4.6" font-weight="700" fill="#fff" text-anchor="middle">4%</text>
<rect x="691.34" y="259.8" width="22.44" height="10.3" fill="#3bc0e5"/>
<rect x="691.14" y="259.8" width=".4" height="10.3" fill="#fff" fill-opacity=".8"/>
<text x="702.57" y="266.7" font-size="4.6" font-weight="700" fill="#fff" text-anchor="middle">10%</text>
<rect x="713.79" y="259.8" width="24.94" height="10.3" fill="#2fa49c"/>
<rect x="713.59" y="259.8" width=".4" height="10.3" fill="#fff" fill-opacity=".8"/>
<text x="726.26" y="266.7" font-size="4.6" font-weight="700" fill="#fff" text-anchor="middle">11%</text>
<rect x="738.73" y="259.8" width="36.34" height="10.3" fill="#12ba55"/>
<rect x="738.53" y="259.8" width=".4" height="10.3" fill="#fff" fill-opacity=".8"/>
<text x="756.90" y="266.7" font-size="4.6" font-weight="700" fill="#fff" text-anchor="middle">16%</text>
<text x="534.6" y="282.3" font-size="4.7" fill="#6f7890" text-anchor="middle">2017</text>
<rect x="545.99" y="275.6" width="35.27" height="10.3" fill="#4279d6"/>
<text x="563.63" y="282.5" font-size="4.6" font-weight="700" fill="#fff" text-anchor="middle">16%</text>
<rect x="581.26" y="275.6" width="21.02" height="10.3" fill="#5bb300"/>
<rect x="581.06" y="275.6" width=".4" height="10.3" fill="#fff" fill-opacity=".8"/>
<text x="591.77" y="282.5" font-size="4.6" font-weight="700" fill="#fff" text-anchor="middle">9%</text>
<rect x="602.28" y="275.6" width="24.94" height="10.3" fill="#fdc441"/>
<rect x="602.08" y="275.6" width=".4" height="10.3" fill="#fff" fill-opacity=".8"/>
<text x="614.75" y="282.5" font-size="4.6" font-weight="700" fill="#fff" text-anchor="middle">11%</text>
<rect x="627.22" y="275.6" width="24.23" height="10.3" fill="#f4585f"/>
<rect x="627.02" y="275.6" width=".4" height="10.3" fill="#fff" fill-opacity=".8"/>
<text x="639.33" y="282.5" font-size="4.6" font-weight="700" fill="#fff" text-anchor="middle">11%</text>
<rect x="651.44" y="275.6" width="26.01" height="10.3" fill="#8c6ff0"/>
<rect x="651.24" y="275.6" width=".4" height="10.3" fill="#fff" fill-opacity=".8"/>
<text x="664.45" y="282.5" font-size="4.6" font-weight="700" fill="#fff" text-anchor="middle">11%</text>
<rect x="677.45" y="275.6" width="35.27" height="10.3" fill="#3bc0e5"/>
<rect x="677.25" y="275.6" width=".4" height="10.3" fill="#fff" fill-opacity=".8"/>
<text x="695.09" y="282.5" font-size="4.6" font-weight="700" fill="#fff" text-anchor="middle">16%</text>
<rect x="712.72" y="275.6" width="21.38" height="10.3" fill="#2fa49c"/>
<rect x="712.52" y="275.6" width=".4" height="10.3" fill="#fff" fill-opacity=".8"/>
<text x="723.41" y="282.5" font-size="4.6" font-weight="700" fill="#fff" text-anchor="middle">9%</text>
<rect x="734.10" y="275.6" width="40.97" height="10.3" fill="#12ba55"/>
<rect x="733.90" y="275.6" width=".4" height="10.3" fill="#fff" fill-opacity=".8"/>
<text x="754.58" y="282.5" font-size="4.6" font-weight="700" fill="#fff" text-anchor="middle">18%</text>
<text x="534.6" y="298.5" font-size="4.7" fill="#6f7890" text-anchor="middle">2018</text>
<rect x="545.99" y="291.8" width="57.00" height="10.3" fill="#4279d6"/>
<text x="574.49" y="298.7" font-size="4.6" font-weight="700" fill="#fff" text-anchor="middle">25%</text>
<rect x="602.99" y="291.8" width="57.00" height="10.3" fill="#5bb300"/>
<rect x="602.79" y="291.8" width=".4" height="10.3" fill="#fff" fill-opacity=".8"/>
<text x="631.49" y="298.7" font-size="4.6" font-weight="700" fill="#fff" text-anchor="middle">25%</text>
<rect x="659.99" y="291.8" width="16.39" height="10.3" fill="#fdc441"/>
<rect x="659.79" y="291.8" width=".4" height="10.3" fill="#fff" fill-opacity=".8"/>
<text x="668.19" y="298.7" font-size="4.6" font-weight="700" fill="#fff" text-anchor="middle">7%</text>
<rect x="676.38" y="291.8" width="11.40" height="10.3" fill="#f4585f"/>
<rect x="676.18" y="291.8" width=".4" height="10.3" fill="#fff" fill-opacity=".8"/>
<text x="682.08" y="298.7" font-size="4.6" font-weight="700" fill="#fff" text-anchor="middle">5%</text>
<rect x="687.78" y="291.8" width="12.11" height="10.3" fill="#8c6ff0"/>
<rect x="687.58" y="291.8" width=".4" height="10.3" fill="#fff" fill-opacity=".8"/>
<text x="693.84" y="298.7" font-size="4.6" font-weight="700" fill="#fff" text-anchor="middle">5%</text>
<rect x="699.89" y="291.8" width="20.66" height="10.3" fill="#3bc0e5"/>
<rect x="699.69" y="291.8" width=".4" height="10.3" fill="#fff" fill-opacity=".8"/>
<text x="710.23" y="298.7" font-size="4.6" font-weight="700" fill="#fff" text-anchor="middle">9%</text>
<rect x="720.56" y="291.8" width="22.44" height="10.3" fill="#2fa49c"/>
<rect x="720.36" y="291.8" width=".4" height="10.3" fill="#fff" fill-opacity=".8"/>
<text x="731.78" y="298.7" font-size="4.6" font-weight="700" fill="#fff" text-anchor="middle">10%</text>
<rect x="743.00" y="291.8" width="32.06" height="10.3" fill="#12ba55"/>
<rect x="742.80" y="291.8" width=".4" height="10.3" fill="#fff" fill-opacity=".8"/>
<text x="759.03" y="298.7" font-size="4.6" font-weight="700" fill="#fff" text-anchor="middle">14%</text>
<text x="534.6" y="314.6" font-size="4.7" fill="#6f7890" text-anchor="middle">2019</text>
<rect x="545.99" y="307.9" width="40.26" height="10.3" fill="#4279d6"/>
<text x="566.12" y="314.8" font-size="4.6" font-weight="700" fill="#fff" text-anchor="middle">18%</text>
<rect x="586.25" y="307.9" width="40.61" height="10.3" fill="#5bb300"/>
<rect x="586.05" y="307.9" width=".4" height="10.3" fill="#fff" fill-opacity=".8"/>
<text x="606.56" y="314.8" font-size="4.6" font-weight="700" fill="#fff" text-anchor="middle">18%</text>
<rect x="626.86" y="307.9" width="17.81" height="10.3" fill="#fdc441"/>
<rect x="626.66" y="307.9" width=".4" height="10.3" fill="#fff" fill-opacity=".8"/>
<text x="635.77" y="314.8" font-size="4.6" font-weight="700" fill="#fff" text-anchor="middle">8%</text>
<rect x="644.68" y="307.9" width="22.80" height="10.3" fill="#f4585f"/>
<rect x="644.48" y="307.9" width=".4" height="10.3" fill="#fff" fill-opacity=".8"/>
<text x="656.08" y="314.8" font-size="4.6" font-weight="700" fill="#fff" text-anchor="middle">10%</text>
<rect x="667.48" y="307.9" width="22.09" height="10.3" fill="#8c6ff0"/>
<rect x="667.28" y="307.9" width=".4" height="10.3" fill="#fff" fill-opacity=".8"/>
<text x="678.52" y="314.8" font-size="4.6" font-weight="700" fill="#fff" text-anchor="middle">10%</text>
<rect x="689.56" y="307.9" width="20.66" height="10.3" fill="#3bc0e5"/>
<rect x="689.36" y="307.9" width=".4" height="10.3" fill="#fff" fill-opacity=".8"/>
<text x="699.89" y="314.8" font-size="4.6" font-weight="700" fill="#fff" text-anchor="middle">9%</text>
<rect x="710.23" y="307.9" width="26.36" height="10.3" fill="#2fa49c"/>
<rect x="710.03" y="307.9" width=".4" height="10.3" fill="#fff" fill-opacity=".8"/>
<text x="723.41" y="314.8" font-size="4.6" font-weight="700" fill="#fff" text-anchor="middle">12%</text>
<rect x="736.59" y="307.9" width="38.48" height="10.3" fill="#12ba55"/>
<rect x="736.39" y="307.9" width=".4" height="10.3" fill="#fff" fill-opacity=".8"/>
<text x="755.83" y="314.8" font-size="4.6" font-weight="700" fill="#fff" text-anchor="middle">17%</text>
<text x="545.8" y="330.5" font-size="4.6" fill="#7d8599" text-anchor="middle">0</text>
<text x="591.6" y="330.5" font-size="4.6" fill="#7d8599" text-anchor="middle">20</text>
<text x="637.5" y="330.5" font-size="4.6" fill="#7d8599" text-anchor="middle">40</text>
<text x="683.3" y="330.5" font-size="4.6" fill="#7d8599" text-anchor="middle">60</text>
<text x="729.2" y="330.5" font-size="4.6" fill="#7d8599" text-anchor="middle">80</text>
<text x="775.0" y="330.5" font-size="4.6" fill="#7d8599" text-anchor="middle">100</text>
</svg>
<div class="hl" style="left:0;top:194.7px;width:100%"></div>
<div class="vl" style="left:137.79999999999995px;top:194.7px;height:32.80000000000001px"></div>
<div class="t mut" style="left:70px;top:203px;font-size:5.3px;transform:translateX(-50%)">Monthly Average</div>
<div class="t" style="left:43.5px;top:211px;font-size:8.55px;color:#343a47">2,186</div>
<svg style="left:74.29999999999995px;top:214.10000000000002px" width="2.6" height="2" viewBox="0 0 2.6 2"><path d="M0 2L1.3 0L2.6 2Z" fill="#13bb56"/></svg>
<div class="t" style="left:78.70000000000005px;top:213px;font-size:6.4px;color:#13bb56">0.48%</div>
<div class="t mut" style="left:205.5px;top:203px;font-size:5.3px;transform:translateX(-50%)">Weekly Average</div>
<div class="t" style="left:179px;top:211px;font-size:8.55px;color:#343a47">1,068</div>
<svg style="left:209.29999999999995px;top:214.5px" width="2.6" height="2" viewBox="0 0 2.6 2"><path d="M0 0L1.3 2L2.6 0Z" fill="#f0434f"/></svg>
<div class="t" style="left:213.79999999999995px;top:213px;font-size:6.4px;color:#f0434f">0.20%</div>
</div>
<div class="card" style="left:113px;top:391.75px;width:334.6px;height:176px">
<div class="t ct" style="left:9px;top:9px">Popular Products</div>
<div class="hl" style="left:0;top:24.25px;width:100%"></div>
<div class="t" style="left:10.400000000000006px;top:31px;font-size:5.3px;color:#3b4252">S.NO</div>
<div class="t" style="left:52.30000000000001px;top:31px;font-size:5.3px;color:#3b4252">PRODUCT NAME</div>
<div class="t" style="left:170.2px;top:31px;font-size:5.3px;color:#3b4252">POPULARITY</div>
<div class="t" style="right:10.0px;top:31px;font-size:5.3px;color:#3b4252">PERCENTAGE %</div>
<div class="hl" style="left:0;top:43.25px;width:100%"></div>
<div class="t mut" style="left:10.400000000000006px;top:52px;font-size:5.4px">01</div>
<div class="t" style="left:52.30000000000001px;top:52px;font-size:5.55px;color:#434b60">Samsung Smartwatches</div>
<svg style="left:170.10000000000002px;top:53.90px" width="63.6" height="1.7" viewBox="0 0 63.6 1.7"><rect width="63.6" height="1.7" rx=".85" fill="#f1f2f7"/><rect width="31.8" height="1.7" rx=".85" fill="#3d7cd8"/></svg>
<div style="position:absolute;left:306px;top:49.05px;width:18.5px;height:11px;border-radius:1.5px;background:rgba(61,124,216,0.2);border:1px solid rgba(61,124,216,0.3)"></div>
<div class="t" style="left:315.2px;top:53px;font-size:4.7px;color:#3d7cd8;transform:translateX(-50%)">50%</div>
<div class="hl" style="left:0;top:65.70px;width:100%"></div>
<div class="t mut" style="left:10.400000000000006px;top:74px;font-size:5.4px">02</div>
<div class="t" style="left:52.30000000000001px;top:75px;font-size:5.55px;color:#434b60">Kids Wear</div>
<svg style="left:170.10000000000002px;top:75.95px" width="63.6" height="1.7" viewBox="0 0 63.6 1.7"><rect width="63.6" height="1.7" rx=".85" fill="#f1f2f7"/><rect width="12.7" height="1.7" rx=".85" fill="#5bb300"/></svg>
<div style="position:absolute;left:306px;top:71.10px;width:18.5px;height:11px;border-radius:1.5px;background:rgba(91,179,0,0.2);border:1px solid rgba(91,179,0,0.3)"></div>
<div class="t" style="left:315.2px;top:75px;font-size:4.7px;color:#5bb300;transform:translateX(-50%)">20%</div>
<div class="hl" style="left:0;top:87.75px;width:100%"></div>
<div class="t mut" style="left:10.400000000000006px;top:97px;font-size:5.4px">03</div>
<div class="t" style="left:52.30000000000001px;top:97px;font-size:5.55px;color:#434b60">Home Decores</div>
<svg style="left:170.10000000000002px;top:98.00px" width="63.6" height="1.7" viewBox="0 0 63.6 1.7"><rect width="63.6" height="1.7" rx=".85" fill="#f1f2f7"/><rect width="25.4" height="1.7" rx=".85" fill="#2cb5e4"/></svg>
<div style="position:absolute;left:306px;top:93.15px;width:18.5px;height:11px;border-radius:1.5px;background:rgba(44,181,228,0.2);border:1px solid rgba(44,181,228,0.3)"></div>
<div class="t" style="left:315.2px;top:97px;font-size:4.7px;color:#2cb5e4;transform:translateX(-50%)">30%</div>
<div class="hl" style="left:0;top:109.80px;width:100%"></div>
<div class="t mut" style="left:10.400000000000006px;top:119px;font-size:5.4px">04</div>
<div class="t" style="left:52.30000000000001px;top:119px;font-size:5.55px;color:#434b60">Furnitures</div>
<svg style="left:170.10000000000002px;top:120.05px" width="63.6" height="1.7" viewBox="0 0 63.6 1.7"><rect width="63.6" height="1.7" rx=".85" fill="#f1f2f7"/><rect width="31.8" height="1.7" rx=".85" fill="#13bb56"/></svg>
<div style="position:absolute;left:306px;top:115.20px;width:18.5px;height:11px;border-radius:1.5px;background:rgba(19,187,86,0.2);border:1px solid rgba(19,187,86,0.3)"></div>
<div class="t" style="left:315.2px;top:119px;font-size:4.7px;color:#13bb56;transform:translateX(-50%)">45%</div>
<div class="hl" style="left:0;top:131.85px;width:100%"></div>
<div class="t mut" style="left:10.400000000000006px;top:141px;font-size:5.4px">05</div>
<div class="t" style="left:52.30000000000001px;top:141px;font-size:5.55px;color:#434b60">Electroni Gadgets</div>
<svg style="left:170.10000000000002px;top:142.10px" width="63.6" height="1.7" viewBox="0 0 63.6 1.7"><rect width="63.6" height="1.7" rx=".85" fill="#f1f2f7"/><rect width="44.5" height="1.7" rx=".85" fill="#fdc033"/></svg>
<div style="position:absolute;left:306px;top:137.25px;width:18.5px;height:11px;border-radius:1.5px;background:rgba(253,192,51,0.2);border:1px solid rgba(253,192,51,0.3)"></div>
<div class="t" style="left:315.2px;top:142px;font-size:4.7px;color:#fdc033;transform:translateX(-50%)">35%</div>
<div class="hl" style="left:0;top:153.90px;width:100%"></div>
<div class="t mut" style="left:10.400000000000006px;top:163px;font-size:5.4px">06</div>
<div class="t" style="left:52.30000000000001px;top:163px;font-size:5.55px;color:#434b60">Mechanical Parts</div>
<svg style="left:170.10000000000002px;top:164.15px" width="63.6" height="1.7" viewBox="0 0 63.6 1.7"><rect width="63.6" height="1.7" rx=".85" fill="#f1f2f7"/><rect width="31.8" height="1.7" rx=".85" fill="#f0436e"/></svg>
<div style="position:absolute;left:306px;top:159.30px;width:18.5px;height:11px;border-radius:1.5px;background:rgba(240,67,110,0.2);border:1px solid rgba(240,67,110,0.3)"></div>
<div class="t" style="left:315.2px;top:164px;font-size:4.7px;color:#f0436e;transform:translateX(-50%)">45%</div>
</div>
<div class="card" style="left:458.2px;top:391.75px;width:161.5px;height:176px">
<div class="t ct" style="left:8.600000000000023px;top:9px">Sales Activities</div>
<div class="hl" style="left:0;top:24.25px;width:100%"></div>
<div class="vl" style="left:12.199999999999989px;top:38.25px;height:116px;background:#eff1f7"></div>
<svg style="left:8.400000000000034px;top:33.9px" width="8" height="8" viewBox="0 0 8 8"><circle cx="4" cy="4" r="4" fill="#fff"/><circle cx="4" cy="4" r="3.7" fill="#3d7cd8" fill-opacity=".25"/><circle cx="4" cy="4" r="1.55" fill="#3d7cd8"/></svg>
<div class="t" style="left:23.30000000000001px;top:35px;font-size:6.25px;color:#3b4252">Update of calendar events &amp; <span class="pri">Added</span></div>
<div class="t" style="left:23.30000000000001px;top:44px;font-size:6.25px;color:#3b4252"><span class="pri">new events in next week.</span></div>
<div class="t mut" style="right:8.7px;top:36px;font-size:4.7px;color:#a6adc2">4:45 PM</div>
<svg style="left:8.400000000000034px;top:58.4px" width="8" height="8" viewBox="0 0 8 8"><circle cx="4" cy="4" r="4" fill="#fff"/><circle cx="4" cy="4" r="3.7" fill="#5bb300" fill-opacity=".25"/><circle cx="4" cy="4" r="1.55" fill="#5bb300"/></svg>
<div class="t" style="left:23.30000000000001px;top:59px;font-size:6.25px;color:#3b4252">New theme for Spruko Website</div>
<div class="t" style="left:23.30000000000001px;top:68px;font-size:6.25px;color:#3b4252">completed</div>
<div class="t mut" style="right:8.7px;top:60px;font-size:4.7px;color:#a6adc2">3 hrs</div>
<div class="t mut" style="left:23.30000000000001px;top:78px;font-size:4.95px">Lorem ipsum, dolor sit amet.</div>
<svg style="left:8.400000000000034px;top:91.1px" width="8" height="8" viewBox="0 0 8 8"><circle cx="4" cy="4" r="4" fill="#fff"/><circle cx="4" cy="4" r="3.7" fill="#13bb56" fill-opacity=".25"/><circle cx="4" cy="4" r="1.55" fill="#13bb56"/></svg>
<div class="t" style="left:23.30000000000001px;top:92px;font-size:6.25px;color:#3b4252">Created a <span style="color:#13bb56">New Task</span> today</div>
<div class="t mut" style="right:8.7px;top:93px;font-size:4.7px;color:#a6adc2">22 hrs</div>
<div style="position:absolute;left:99.9px;top:91.1px;width:8px;height:8px;border-radius:50%;background:#e6e1fb"></div>
<div class="t" style="left:102.6px;top:93px;font-size:4.6px;color:#7b6cf0">+</div>
<svg style="left:8.400000000000034px;top:107.9px" width="8" height="8" viewBox="0 0 8 8"><circle cx="4" cy="4" r="4" fill="#fff"/><circle cx="4" cy="4" r="3.7" fill="#f0436e" fill-opacity=".25"/><circle cx="4" cy="4" r="1.55" fill="#f0436e"/></svg>
<div class="t" style="left:23.30000000000001px;top:109px;font-size:6.25px;color:#3b4252">New member</div>
<div class="t mut" style="right:8.7px;top:110px;font-size:4.7px;color:#a6adc2">Today</div>
<div style="position:absolute;left:61.8px;top:108.0px;width:43.8px;height:7px;border-radius:1.2px;background:#fcdde5"></div>
<div class="t" style="left:83.7px;top:110px;font-size:4.75px;color:#f2668a;transform:translateX(-50%)">@andreas gurrero</div>
<div class="t" style="left:106.86321914511967px;top:109px;font-size:6.25px;color:#3b4252">added</div>
<div class="t" style="left:23.30000000000001px;top:117px;font-size:6.25px;color:#3b4252">today to AI Summit.</div>
<svg style="left:8.400000000000034px;top:132.2px" width="8" height="8" viewBox="0 0 8 8"><circle cx="4" cy="4" r="4" fill="#fff"/><circle cx="4" cy="4" r="3.7" fill="#fdc033" fill-opacity=".25"/><circle cx="4" cy="4" r="1.55" fill="#fdc033"/></svg>
<div class="t" style="left:23.30000000000001px;top:133px;font-size:6.25px;color:#3b4252">32 New people joined summit.</div>
<div class="t mut" style="right:8.7px;top:134px;font-size:4.7px;color:#a6adc2">22 hrs</div>
<svg style="left:8.400000000000034px;top:150.6px" width="8" height="8" viewBox="0 0 8 8"><circle cx="4" cy="4" r="4" fill="#fff"/><circle cx="4" cy="4" r="3.7" fill="#2cb5e4" fill-opacity=".25"/><circle cx="4" cy="4" r="1.55" fill="#2cb5e4"/></svg>
<div class="t" style="left:23.30000000000001px;top:152px;font-size:6.25px;color:#3b4252">Neon Tarly added <span style="color:#2cb5e4">Robert Bright</span> to AI</div>
<div class="t" style="left:23.30000000000001px;top:161px;font-size:6.25px;color:#3b4252">summit project.</div>
<div class="t mut" style="right:8.7px;top:153px;font-size:4.7px;color:#a6adc2">12 hrs</div>
</div>
<div class="card" style="left:630.7px;top:391.75px;width:161.4px;height:176px">
<div class="t ct" style="left:8.5px;top:9px">Recent Orders</div>
<div class="hl" style="left:0;top:24.25px;width:100%"></div>
<svg style="left:-630.7px;top:-391.75px" width="800" height="636" viewBox="0 0 800 636" font-family="Liberation Sans">
<path d="M711.90 429.70A45.5 45.5 0 0 1 756.31 485.12L749.08 483.51A38.1 38.1 0 0 0 711.90 437.10Z" fill="#5bb300"/>
<path d="M756.31 485.12A45.5 45.5 0 0 1 668.67 489.40L675.70 487.09A38.1 38.1 0 0 0 749.08 483.51Z" fill="#4279d6"/>
<path d="M668.67 489.40A45.5 45.5 0 0 1 678.82 443.96L684.20 449.04A38.1 38.1 0 0 0 675.70 487.09Z" fill="#3bc0e5"/>
<path d="M678.82 443.96A45.5 45.5 0 0 1 711.90 429.70L711.90 437.10A38.1 38.1 0 0 0 684.20 449.04Z" fill="#fdc033"/>
<text x="711.9" y="473.4" font-size="9.1" font-weight="700" fill="#343a47" text-anchor="middle">Total</text>
<text x="711.9" y="484.8" font-size="6.3" fill="#4d5875" text-anchor="middle">193</text>
</svg>
<div class="hl" style="left:0;top:142.64999999999998px;width:100%"></div>
<div class="vl" style="left:80.89999999999998px;top:152.25px;height:17px;background:#f4f5f9"></div>
<div style="position:absolute;left:23.5px;top:153.54999999999995px;width:3px;height:3px;border-radius:50%;background:#3d7cd8"></div>
<div class="t" style="left:29.0px;top:152px;font-size:6.3px;color:#6b7591">Last Month</div>
<div class="t" style="left:41.89999999999998px;top:161px;font-size:8px;color:#343a47;transform:translateX(-50%)">$3,006</div>
<div style="position:absolute;left:101.19999999999993px;top:153.54999999999995px;width:3px;height:3px;border-radius:50%;background:#5bb300"></div>
<div class="t" style="left:107.0px;top:152px;font-size:6.3px;color:#6b7591">This Month</div>
<div class="t" style="left:119.5px;top:161px;font-size:8px;color:#343a47;transform:translateX(-50%)">$4,026</div>
</div>
<div class="card" style="left:113px;top:581.6px;width:679px;height:80px">
<div class="t ct" style="left:9px;top:11px">Product Sales</div>
<div class="hl" style="left:0;top:28.799999999999955px;width:100%"></div>
<div style="position:absolute;left:635.8px;top:9.399999999999977px;width:35px;height:10px;border-radius:1.5px;box-shadow:inset 0 0 0 .5px #e9ebf2;background:#fff"></div>
<svg style="left:640.2px;top:12.199999999999932px" width="4.4" height="4.4" viewBox="0 0 4.4 4.4"><rect x=".3" y=".7" width="3.8" height="3.4" rx=".4" fill="none" stroke="#3d7cd8" stroke-width=".5"/><path d="M.3 1.7H4.1M1.3 .2V1M3.1 .2V1" stroke="#3d7cd8" stroke-width=".5"/></svg>
<div class="t pri" style="left:647px;top:13px;font-size:4.6px;font-weight:700">Week</div>
<svg style="left:663.6px;top:13.600000000000023px" width="3" height="2" viewBox="0 0 3 2"><path d="M.3 .4L1.5 1.6L2.7 .4" fill="none" stroke="#3d7cd8" stroke-width=".5"/></svg>
<div class="t" style="left:8.599999999999994px;top:42px;font-size:6.1px;color:#3b4252">Show</div>
<div style="position:absolute;left:26.599999999999994px;top:39.0px;width:30.2px;height:14px;border-radius:1.5px;box-shadow:inset 0 0 0 .5px #e9ebf2;background:#fff"></div>
<div class="t" style="left:30.599999999999994px;top:42px;font-size:6.1px;color:#3b4252">10</div>
<svg style="left:45px;top:43.799999999999955px" width="3.4" height="2.2" viewBox="0 0 3.4 2.2"><path d="M.3 .4L1.7 1.8L3.1 .4" fill="none" stroke="#4d5875" stroke-width=".55"/></svg>
<div class="t" style="left:59px;top:42px;font-size:6.1px;color:#3b4252">entries</div>
<div style="position:absolute;left:591.6px;top:37.799999999999955px;width:79.2px;height:16px;border-radius:1.5px;box-shadow:inset 0 0 0 .5px #e9ebf2;background:#fff"></div>
<div class="t" style="left:596.6px;top:43px;font-size:5.4px;color:#b4bace">Search...</div>
</div>
</body></html>
